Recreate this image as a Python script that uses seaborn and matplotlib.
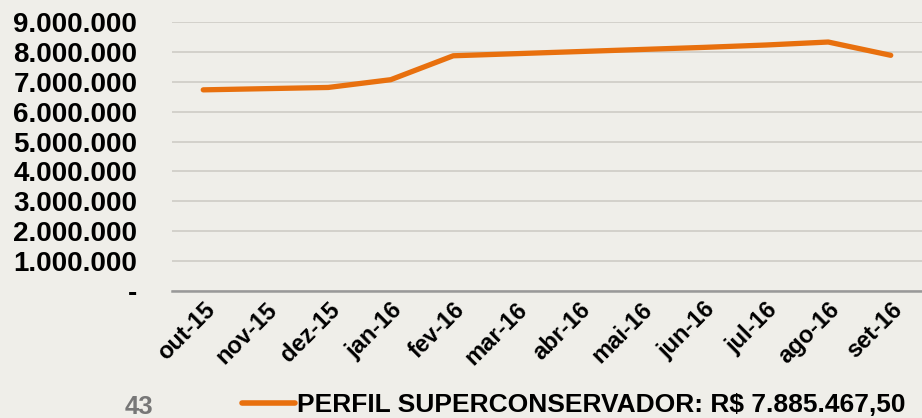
import matplotlib
matplotlib.use("Agg")
import matplotlib.pyplot as plt
import matplotlib.ticker as mticker
import seaborn as sns
import pandas as pd

# monthly balance of the profile
months = ['out-15', 'nov-15', 'dez-15', 'jan-16', 'fev-16', 'mar-16',
          'abr-16', 'mai-16', 'jun-16', 'jul-16', 'ago-16', 'set-16']
values = [6730000, 6770000, 6810000, 7070000, 7870000, 7940000,
          8010000, 8080000, 8150000, 8230000, 8330000, 7885467.50]
y_ticks = [0, 1000000, 2000000, 3000000, 4000000, 5000000,
           6000000, 7000000, 8000000, 9000000]
series_label = 'PERFIL SUPERCONSERVADOR: R$ 7.885.467,50'
page_number = '43'

df = pd.DataFrame({'Mes': months, 'Saldo': values})

bg = '#efeee9'
orange = '#e8700e'

sns.set_style('white')
plt.rcParams['font.family'] = ['Liberation Sans', 'DejaVu Sans']
plt.rcParams['font.weight'] = 'bold'
plt.rcParams['text.color'] = 'black'
plt.rcParams['xtick.labelcolor'] = 'black'
plt.rcParams['ytick.labelcolor'] = 'black'

fig = plt.figure(figsize=(9.22, 4.18), dpi=100, facecolor=bg)
ax = fig.add_axes([172 / 922, 1 - 291 / 418, 750 / 922, 269 / 418])
ax.set_facecolor(bg)

x = list(range(len(months)))
sns.lineplot(x=x, y=df['Saldo'], ax=ax, color=orange, linewidth=3.8,
             solid_capstyle='round', label=series_label, legend=False)

ax.set_xlim(-0.5, len(months) - 0.5)
ax.set_ylim(0, 9000000)
ax.set_yticks(y_ticks)


def fmt(v, pos):
    if v == 0:
        return '-'
    return f'{int(v):,}'.replace(',', '.')


ax.yaxis.set_major_formatter(mticker.FuncFormatter(fmt))
ax.grid(axis='y', color='#d3d1cb', linewidth=1.4)
ax.set_axisbelow(True)

ax.set_xticks(x)
ax.set_xticklabels(months, rotation=45, ha='right', rotation_mode='anchor',
                   fontsize=17, fontweight='bold', color='black')
ax.set_xticks([i - 0.5 for i in range(len(months) + 1)], minor=True)
ax.tick_params(axis='x', which='major', length=0, pad=5)
ax.tick_params(axis='x', which='minor', length=6, width=1.5, color='#999999')
ax.tick_params(axis='y', length=0, pad=25, labelsize=20, labelcolor='black')
for lab in ax.get_yticklabels():
    lab.set_fontweight('bold')

for side in ['left', 'right', 'top']:
    ax.spines[side].set_visible(False)
ax.spines['bottom'].set_color('#999999')
ax.spines['bottom'].set_linewidth(1.8)
ax.set_xlabel('')
ax.set_ylabel('')

handles, labels = ax.get_legend_handles_labels()
leg = fig.legend(handles, labels, loc='center left',
                 bbox_to_anchor=(229 / 922, 1 - 405 / 418), frameon=False,
                 handlelength=2.0, handletextpad=0.08, borderpad=0,
                 prop={'size': 19, 'weight': 'bold'}, labelcolor='black')
for line in leg.get_lines():
    line.set_linewidth(4)

fig.text(125 / 922, 1 - 407 / 418, page_number, color='#777777',
         fontsize=18.5, fontweight='bold', va='center', ha='left')

fig.savefig('out.png', dpi=100, facecolor=bg)
